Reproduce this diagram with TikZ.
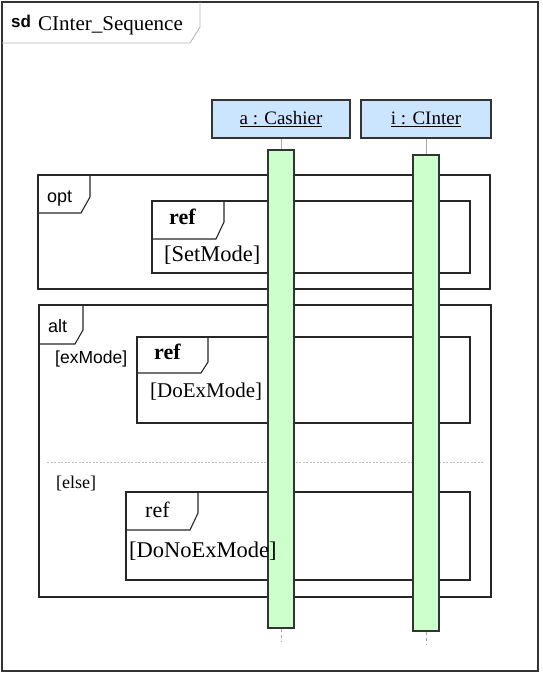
\documentclass[tikz,border=0pt]{standalone}
\usepackage{fontspec}
\setmainfont{Liberation Serif}
\setsansfont{Liberation Sans}
\definecolor{headblue}{RGB}{204,229,255}
\definecolor{actgreen}{RGB}{204,255,204}
\tikzset{   headbox/.style={draw=black!80,fill=headblue,minimum height=38pt,inner sep=0pt,line width=1.2pt,font=\fontsize{19}{22}\selectfont},
            actbar/.style={draw=black!80,fill=actgreen,minimum width=26pt,inner sep=0pt,line width=1.2pt},
            fragment/.style={draw=black!85,line width=1.1pt},
            fragtab/.style={draw=black!85,line width=1.1pt},
            lifeline/.style={draw=black!35,line width=0.7pt},
            txt/.style={anchor=base west,inner sep=0pt},
}

\begin{document}
\begin{tikzpicture}[x=1pt,y=-1pt]
    \useasboundingbox (0,0) rectangle (542,675);
    \draw[draw=black!80,line width=2pt] (2,2) rectangle (538,671); % outer sd frame
    \draw[draw=black!30,line width=0.8pt] (2,43) -- (190,43) -- (200,27) -- (200,2);
    \node[txt,font=\sffamily\bfseries\fontsize{17}{20}\selectfont] (sdlabel) at (11,27) {sd};
    \node[txt,font=\fontsize{21}{24}\selectfont] (sdname) at (38,30) {CInter\_Sequence};

    % opt fragment
    \draw[fragment] (38,175) rectangle (490,289);
    \draw[fragtab] (38,213) -- (81,213) -- (90,197) -- (90,175);
    \node[txt,font=\sffamily\fontsize{18}{21}\selectfont] (optlabel) at (47,202) {opt};
    \draw[fragment] (152,201) rectangle (470,273);
    \draw[fragtab] (152,239) -- (216,239) -- (224,222) -- (224,201);
    \node[txt,font=\bfseries\fontsize{22}{26}\selectfont] (refa) at (169,224) {ref};
    \node[txt,font=\fontsize{22.5}{26}\selectfont] (setmode) at (164,261) {[SetMode]};

    % alt fragment
    \draw[fragment] (39,305) rectangle (491,597);
    \draw[fragtab] (39,344) -- (75,344) -- (83,330) -- (83,305);
    \node[txt,font=\sffamily\fontsize{18}{21}\selectfont] (altlabel) at (48,332) {alt};
    \node[txt,font=\sffamily\fontsize{17.5}{21}\selectfont] (exguard) at (55,363) {[exMode]};
    \draw[fragment] (137,337) rectangle (470,423);
    \draw[fragtab] (137,373) -- (201,373) -- (208,362) -- (208,337);
    \node[txt,font=\bfseries\fontsize{22}{26}\selectfont] (refb) at (154,359) {ref};
    \node[txt,font=\fontsize{21}{25}\selectfont] (doexmode) at (150,397) {[DoExMode]};

    \draw[draw=black!25,line width=0.7pt,dash pattern=on 2pt off 1.5pt] (47,462) -- (484,462); % operand separator
    \node[txt,font=\fontsize{18}{21}\selectfont] (elseguard) at (56,488) {[else]};
    \draw[fragment] (126,492) rectangle (470,580);
    \draw[fragtab] (126,530) -- (190,530) -- (198,513) -- (198,492);
    \node[txt,font=\fontsize{22}{26}\selectfont] (refc) at (145,517) {ref};

    % lifelines
    \node[headbox,minimum width=138pt] (cashier) at (281,119) {\underline{a : Cashier}};
    \node[headbox,minimum width=130pt] (cinter) at (426,119) {\underline{i : CInter}};
    \node[actbar,minimum height=478pt] (cashierbar) at (281,389) {};
    \node[actbar,minimum height=476pt] (cinterbar) at (426,393) {};
    \coordinate (cashierend) at (281,642);
    \coordinate (cinterend) at (426,644);
    \draw[lifeline] (cashier) -- (cashierbar);
    \draw[lifeline] (cinter) -- (cinterbar);
    \draw[lifeline,dashed] (cashierbar) -- (cashierend);
    \draw[lifeline,dashed] (cinterbar) -- (cinterend);

    \node[txt,font=\fontsize{22.5}{26}\selectfont] (donoexmode) at (129,557) {[DoNoExMode]}; % over the bar
\end{tikzpicture}
\end{document}
